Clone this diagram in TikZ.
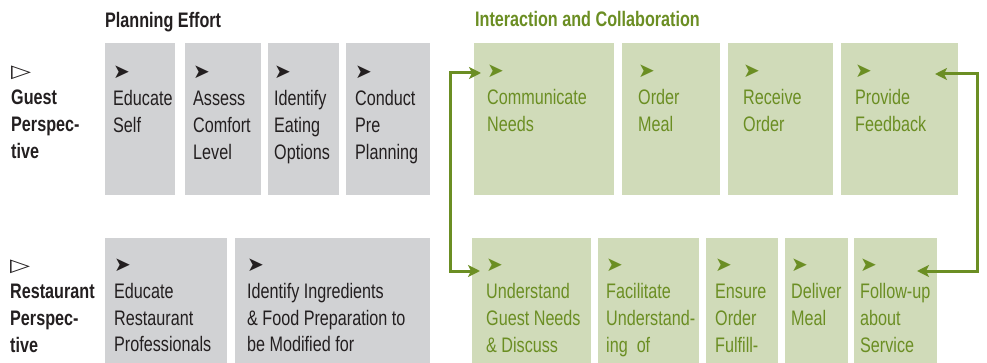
\documentclass[tikz,border=0pt]{standalone}
\usepackage{fontspec}
\usepackage{graphicx}
\setmainfont{Liberation Sans}[FakeStretch=0.77]
\newfontfamily\symfont{DejaVu Sans}
\usetikzlibrary{arrows.meta}
\definecolor{boxgray}{HTML}{D1D2D4}
\definecolor{boxgreen}{HTML}{D0DBB9}
\definecolor{leaf}{HTML}{6B8E23}
\definecolor{ink}{HTML}{231F20}
\newcommand{\pointer}{{\symfont\mdseries\fontsize{20}{27}\selectfont ➤}}
\newcommand{\opentri}{{\symfont\mdseries\fontsize{18}{27}\selectfont\scalebox{1.45}[1]{▷}}}
\newcommand{\lines}[1]{\begin{tabular}[t]{@{}l@{}}#1\end{tabular}}

\begin{document}
\begin{tikzpicture}[
  x=1pt, y=-1pt,
  font=\fontsize{21}{27}\selectfont,
  >={Stealth[length=12pt, width=12pt, inset=3pt]},
  plan/.style={fill=boxgray, inner sep=0pt, outer sep=0pt, anchor=north west},
  act/.style={fill=boxgreen, inner sep=0pt, outer sep=0pt, anchor=north west},
  planlbl/.style={anchor=base west, inner sep=0pt, text=ink},
  actlbl/.style={anchor=base west, inner sep=0pt, text=leaf},
  head/.style={anchor=base west, inner sep=0pt, text=ink,
               font=\fontsize{21}{27}\selectfont\bfseries},
  link/.style={<->, leaf, line width=3pt},
]
\useasboundingbox (0,0) rectangle (987,363);

% headings
\node[head] (planhead) at (105,28) {Planning Effort};
\node[head, text=leaf] (acthead) at (475,27) {Interaction and Collaboration};

% perspectives
\node[head] (guest) at (11,78) {\lines{\opentri\\Guest\\Perspec-\\tive}};
\node[head] (rest)  at (10,272) {\lines{\opentri\\Restaurant\\Perspec-\\tive}};

% guest: planning
\node[plan, minimum width=70pt, minimum height=152pt] (edself) at (105,43) {};
\node[plan, minimum width=76pt, minimum height=152pt] (assess) at (185,43) {};
\node[plan, minimum width=71pt, minimum height=152pt] (eating) at (268,43) {};
\node[plan, minimum width=84pt, minimum height=152pt] (preplan) at (346,43) {};
\node[planlbl] (edselft) at (113,79) {\lines{\pointer\\Educate\\Self}};
\node[planlbl] (assesst) at (193,79) {\lines{\pointer\\Assess\\Comfort\\Level}};
\node[planlbl] (eatingt) at (274,79) {\lines{\pointer\\Identify\\Eating\\Options}};
\node[planlbl] (preplant) at (355,79) {\lines{\pointer\\Conduct\\Pre\\Planning}};

% guest: interaction
\node[act, minimum width=140pt, minimum height=152pt] (comm) at (474,43) {};
\node[act, minimum width=98pt, minimum height=152pt] (order) at (622,43) {};
\node[act, minimum width=105pt, minimum height=152pt] (receive) at (728,43) {};
\node[act, minimum width=117pt, minimum height=152pt] (feedback) at (841,43) {};
\node[actlbl] (commt) at (487,78) {\lines{\pointer\\Communicate\\Needs}};
\node[actlbl] (ordert) at (638,78) {\lines{\pointer\\Order\\Meal}};
\node[actlbl] (receivet) at (743,78) {\lines{\pointer\\Receive\\Order}};
\node[actlbl] (feedbackt) at (855,78) {\lines{\pointer\\Provide\\Feedback}};

% restaurant: planning
\node[plan, minimum width=122pt, minimum height=125pt] (edrest) at (105,238) {};
\node[plan, minimum width=195pt, minimum height=125pt] (ingred) at (235,238) {};
\node[planlbl] (edrestt) at (114,271) {\lines{\pointer\\Educate\\Restaurant\\Professionals}};
\node[planlbl] (ingredt) at (247,271) {\lines{\pointer\\Identify Ingredients\\\& Food Preparation to\\be Modified for}};

% restaurant: interaction
\node[act, minimum width=119pt, minimum height=125pt] (underst) at (472,238) {};
\node[act, minimum width=101pt, minimum height=125pt] (facil) at (598,238) {};
\node[act, minimum width=72pt, minimum height=125pt] (ensure) at (706,238) {};
\node[act, minimum width=63pt, minimum height=125pt] (deliver) at (785,238) {};
\node[act, minimum width=83pt, minimum height=125pt] (follow) at (854,238) {};
\node[actlbl] (understt) at (486,272) {\lines{\pointer\\Understand\\Guest Needs\\\& Discuss}};
\node[actlbl] (facilt) at (606,272) {\lines{\pointer\\Facilitate\\Understand-\\ing~ of}};
\node[actlbl] (ensuret) at (715,272) {\lines{\pointer\\Ensure\\Order\\Fulfill-}};
\node[actlbl] (delivert) at (791,272) {\lines{\pointer\\Deliver\\Meal}};
\node[actlbl] (followt) at (860,272) {\lines{\pointer\\Follow-up\\about\\Service}};

% connectors
\coordinate (guestin) at (481,73);
\coordinate (leftbend) at (450,271);
\coordinate (restin) at (480,271);
\coordinate (feedin) at (935,74);
\coordinate (rightbend) at (977,271);
\coordinate (followin) at (917,271);
\draw[link] (guestin) -| (leftbend) -- (restin);
\draw[link] (feedin) -| (rightbend) -- (followin);
\end{tikzpicture}
\end{document}
